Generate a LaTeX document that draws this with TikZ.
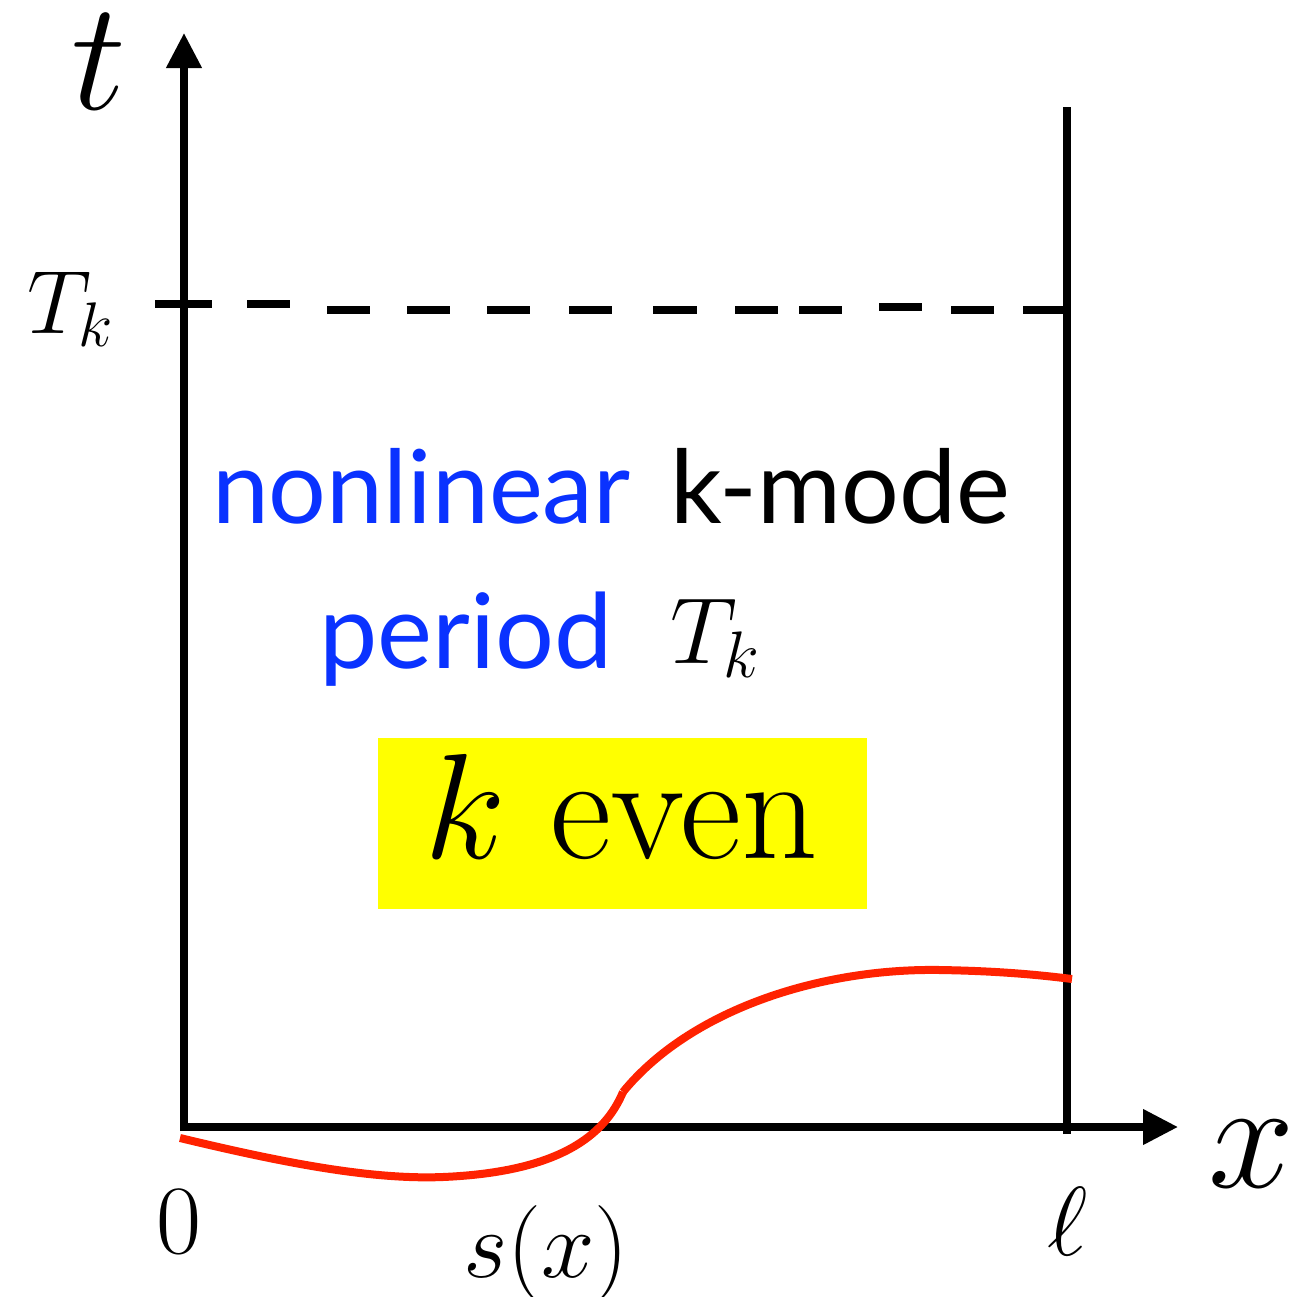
\RequirePackage{fix-cm}
\documentclass[tikz,border=0pt]{standalone}
\usepackage{fontspec}
\newfontfamily\gill{Lato}
\usetikzlibrary{arrows.meta}
\definecolor{tblue}{RGB}{10,50,255}
\definecolor{cred}{RGB}{255,34,0}
\definecolor{ybox}{RGB}{255,255,0}
\begin{document}
\begin{tikzpicture}[x=0.25pt,y=-0.25pt,
  axis/.style={line width=1.85pt, line join=miter},
  dsh/.style={line width=1.95pt},
  tip/.style={-{Triangle[length=8.75pt,width=8.5pt]}},
  lbl/.style={inner sep=0pt, outer sep=0pt},
  big/.style={font=\fontsize{38.75}{40}\selectfont},
  mid/.style={font=\fontsize{23.5}{26}\selectfont},
  sans/.style={font=\gill\fontsize{25.5}{28}\selectfont},
  redcurve/.style={cred, line width=2pt}]
\useasboundingbox (0,0) rectangle (1288,1297);
% coordinates
\coordinate (O) at (184,1127);
\coordinate (ttip) at (184,33);
\coordinate (xtip) at (1178,1127);
\coordinate (wtop) at (1067,107);
\coordinate (wbot) at (1067,1134);
% axes
\draw[axis, tip] (184,1131) -- (ttip);
\draw[axis, tip] (181,1127) -- (xtip);
\draw[axis] (wbot) -- (wtop);
% dashed level T_k (hand-placed dashes)
\foreach \a/\b/\y in {155/212/304, 247/290/304, 327/370/310, 407/450/310, 487/530/310,
  569/612/310, 653/697/310, 735/778/310, 799/842/310, 879/922/307, 951/994/310, 1023/1065/310}
  \draw[dsh] (\a,\y) -- (\b,\y);
% yellow box
\fill[ybox] (378,738) rectangle (867,909);
\node[lbl, anchor=base west, font=\fontsize{37.5}{40}\selectfont] (keven) at (424,858) {$k$ even};
% red curve
\coordinate (c0) at (180,1138);
\coordinate (c1) at (443,1177);
\coordinate (c2) at (623,1092);
\coordinate (c3) at (940,970);
\coordinate (c4) at (1072,979);
\draw[redcurve] (c0) .. controls (280,1162) and (370,1180) .. (c1)
  .. controls (560,1172) and (605,1135) .. (c2);
\draw[redcurve] (c2) .. controls (690,1010) and (820,968) .. (c3)
  .. controls (1000,971) and (1040,975) .. (c4);
% labels
\node[lbl, big, anchor=base west] (tlab) at (71,109) {$t$};
\node[lbl, big, anchor=base west] (xlab) at (1208,1187) {$x$};
\node[lbl, font=\fontsize{22.5}{24}\selectfont, anchor=base west] (Tkl) at (27,333) {$T_k$};
\node[lbl, font=\fontsize{24.5}{26}\selectfont, anchor=base] (zero) at (179,1253) {$0$};
\node[lbl, font=\fontsize{24.5}{26}\selectfont, anchor=base] (ell) at (1068,1255) {$\ell$};
\node[lbl, font=\fontsize{24}{26}\selectfont, anchor=base] (sx) at (546,1277) {$s(x)$};
\node[lbl, sans, text=tblue, anchor=base west] (nonlin) at (212,523) {nonlinear};
\node[lbl, sans, anchor=base west] (kmode) at (670,523) {k-mode};
\node[lbl, font=\gill\fontsize{26}{28}\selectfont, text=tblue, anchor=base west] (period) at (319,668) {period};
\node[lbl, mid, anchor=base west] (Tkm) at (670,663) {$T_k$};
\end{tikzpicture}
\end{document}
